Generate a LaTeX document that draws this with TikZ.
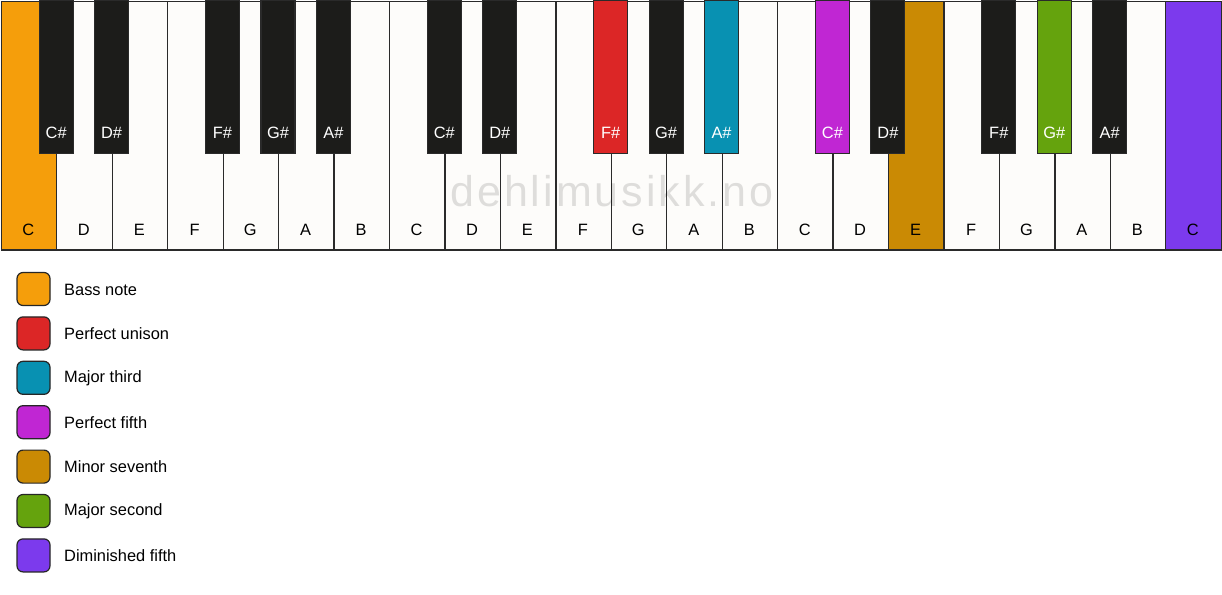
\documentclass[tikz,border=0pt]{standalone}
\usepackage{fontspec}
\setmainfont{Liberation Sans}
\newfontfamily\wmfont[LetterSpace=7]{Liberation Sans}
\definecolor{wfill}{HTML}{FDFCFA}
\definecolor{bfill}{HTML}{1C1C1A}
\definecolor{edge}{HTML}{2A2A2A}
\definecolor{cOrange}{HTML}{F59E0B}
\definecolor{cRed}{HTML}{DC2626}
\definecolor{cTeal}{HTML}{0891B2}
\definecolor{cMag}{HTML}{C026D3}
\definecolor{cGold}{HTML}{CA8A04}
\definecolor{cGreen}{HTML}{65A30D}
\definecolor{cPurple}{HTML}{7C3AED}
\tikzset{
  wkey/.style={draw=edge, line width=1.3pt, rectangle, minimum width=55.45pt, minimum height=248.5pt, inner sep=0pt, anchor=north west},
  bkey/.style={draw=edge, line width=1.1pt, rectangle, minimum width=34pt, minimum height=153pt, inner sep=0pt, anchor=north},
  wlab/.style={font=\fontsize{16.4}{19}\selectfont, text=black, inner sep=0pt},
  blab/.style={font=\fontsize{16.4}{19}\selectfont, text=white, inner sep=0pt},
  legbox/.style={draw=black!85, line width=1.2pt, rectangle, rounded corners=6pt, minimum size=33pt, inner sep=0pt},
  legtext/.style={font=\fontsize{16.4}{19}\selectfont, anchor=west, inner sep=0pt},
  wmark/.style={font=\wmfont\fontsize{43}{50}\selectfont, text=black, text opacity=0.12, inner sep=0pt}
}
\begin{document}
\begin{tikzpicture}[x=1pt,y=-1pt]
\useasboundingbox (0,0) rectangle (1222,594);
\fill[white] (0,0) rectangle (1222,594);
% white keys
\foreach \n/\c [count=\i from 0] in {C/cOrange,D/wfill,E/wfill,F/wfill,G/wfill,A/wfill,B/wfill,
  C/wfill,D/wfill,E/wfill,F/wfill,G/wfill,A/wfill,B/wfill,
  C/wfill,D/wfill,E/cGold,F/wfill,G/wfill,A/wfill,B/wfill,C/cPurple}{
  \node[wkey, fill=\c] (w\i) at ({\i*55.45+0.7},0.7) {};
  \node[wlab] (wl\i) at ({\i*55.45+28.4},230) {\n};
}
% watermark
\node[wmark] (wm) at (612,191) {dehlimusikk.no};
% black keys
\foreach \b/\n/\c in {1/C/bfill,2/D/bfill,4/F/bfill,5/G/bfill,6/A/bfill,
  8/C/bfill,9/D/bfill,11/F/cRed,12/G/bfill,13/A/cTeal,
  15/C/cMag,16/D/bfill,18/F/bfill,19/G/cGreen,20/A/bfill}{
  \node[bkey, fill=\c] (b\b) at ({\b*55.45+0.7},0) {};
  \node[blab] (bl\b) at ({\b*55.45+0.7},133) {\n\#};
}
% legend
\foreach \c/\t [count=\i from 0] in {cOrange/Bass note,cRed/Perfect unison,cTeal/Major third,
  cMag/Perfect fifth,cGold/Minor seventh,cGreen/Major second,cPurple/Diminished fifth}{
  \node[legbox, fill=\c] (lb\i) at (33.5,{289+\i*44.4}) {};
  \node[legtext] (lt\i) at (64,{289.5+\i*44.4}) {\t};
}
\end{tikzpicture}
\end{document}
